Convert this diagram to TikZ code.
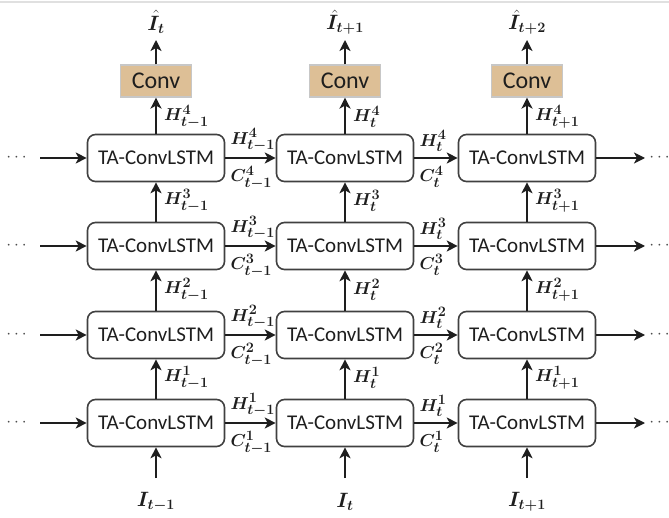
\documentclass[tikz,border=0pt]{standalone}
\usepackage{fontspec}
\setsansfont{Carlito}
\usepackage{amsmath,bm}
\usetikzlibrary{arrows.meta,calc}
\definecolor{convfill}{RGB}{221,191,150}
\definecolor{ink}{RGB}{30,30,30}
\begin{document}
\begin{tikzpicture}[x=1pt,y=-1pt,
  cell/.style={draw=ink!85, line width=1.6pt, rounded corners=8pt, minimum width=137pt, minimum height=47pt, font=\sffamily\fontsize{21}{21}\selectfont, text=ink, inner sep=0pt},
  convbox/.style={fill=convfill, draw=black!22, line width=1.2pt, minimum width=71pt, minimum height=32pt, font=\sffamily\fontsize{24}{24}\selectfont, text=ink, inner sep=0pt},
  arr/.style={draw=ink, line width=1.8pt, -{Stealth[length=11pt,width=11pt,inset=3pt]}},
  lab/.style={font=\fontsize{19}{19}\selectfont, text=ink, inner sep=0pt},
  iolab/.style={font=\fontsize{21}{21}\selectfont, text=ink, inner sep=0pt},
  dotlab/.style={font=\fontsize{18}{18}\selectfont, text=black!70, inner sep=0pt}
]
\useasboundingbox (0,0) rectangle (669,518);
\draw[black!12, line width=2pt] (0,2) -- (669,2);

% cells
\foreach \c/\x in {1/156,2/345,3/527}{
  \foreach \r/\y in {1/423,2/335,3/246,4/158}{
    \node[cell] (c\c\r) at (\x,\y) {TA-ConvLSTM};
  }
  \node[convbox] (cv\c) at (\x,81) {Conv};
  \coordinate (ot\c) at (\x,40);
  \coordinate (ib\c) at (\x,478);
}

% outputs and inputs
\node[iolab] (o1) at (156,22) {$\hat{\bm{I}}_{\bm{t}}$};
\node[iolab] (o2) at (345,22) {$\hat{\bm{I}}_{\bm{t+1}}$};
\node[iolab] (o3) at (527,22) {$\hat{\bm{I}}_{\bm{t+2}}$};
\node[iolab] (i1) at (156,502) {$\bm{I}_{\bm{t-1}}$};
\node[iolab] (i2) at (345,502) {$\bm{I}_{\bm{t}}$};
\node[iolab] (i3) at (527,502) {$\bm{I}_{\bm{t+1}}$};

\foreach \c in {1,2,3}{
  \draw[arr] (cv\c.north) -- (ot\c);
  \draw[arr] (ib\c) -- (c\c1.south);
  \draw[arr] (c\c4.north) -- (cv\c.south);
}

% vertical arrows between rows
\foreach \c in {1,2,3}{
  \foreach \r/\rr in {1/2,2/3,3/4}{
    \draw[arr] (c\c\r.north) -- (c\c\rr.south);
  }
}

% vertical labels
\foreach \c/\s in {1/{t-1},2/{t},3/{t+1}}{
  \foreach \r/\rr in {1/2,2/3,3/4}{
    \node[lab, anchor=west] at ($(c\c\r.north)!0.5!(c\c\rr.south)+(8,-1)$) {$\bm{H^{\r}_{\s}}$};
  }
  \node[lab, anchor=west] at ($(c\c4.north)!0.5!(cv\c.south)+(8,1)$) {$\bm{H^{4}_{\s}}$};
}

% horizontal arrows
\foreach \r/\y in {1/423,2/335,3/246,4/158}{
  \coordinate (lin\r) at (40,\y);
  \coordinate (rout\r) at (645,\y);
  \node[dotlab] (ld\r) at (18,\y) {$\cdots$};
  \node[dotlab] (rd\r) at (661,\y) {$\cdots$};
  \draw[arr] (lin\r) -- (c1\r.west);
  \draw[arr] (c3\r.east) -- (rout\r);
  \draw[arr] (c1\r.east) -- (c2\r.west);
  \draw[arr] (c2\r.east) -- (c3\r.west);
  \node[lab, anchor=south west] at ([xshift=5pt,yshift=6pt]c1\r.east) {$\bm{H^{\r}_{t-1}}$};
  \node[lab, anchor=north west] at ([xshift=5pt,yshift=-8pt]c1\r.east) {$\bm{C^{\r}_{t-1}}$};
  \node[lab, anchor=south west] at ([xshift=5pt,yshift=6pt]c2\r.east) {$\bm{H^{\r}_{t}}$};
  \node[lab, anchor=north west] at ([xshift=5pt,yshift=-8pt]c2\r.east) {$\bm{C^{\r}_{t}}$};
}
\end{tikzpicture}
\end{document}
